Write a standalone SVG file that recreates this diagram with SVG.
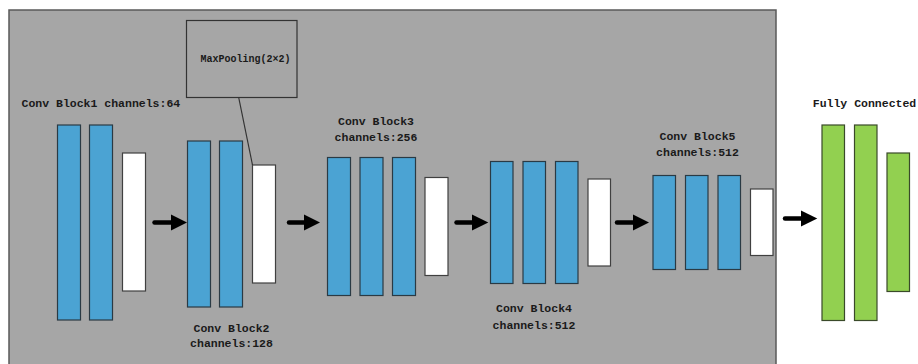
<svg xmlns="http://www.w3.org/2000/svg" width="918" height="364" viewBox="0 0 918 364">
<style>
.bg{fill:#a6a6a6;stroke:#595959;stroke-width:1.5}
.conv{fill:#4ba3d3;stroke:#2a3a44;stroke-width:1.2}
.pool{fill:#ffffff;stroke:#404040;stroke-width:1.2}
.fc{fill:#92d050;stroke:#3a4a2a;stroke-width:1.2}
.lbl{font-family:"Liberation Mono",monospace;font-weight:bold;font-size:11.5px;fill:#1a1a1a}
.arr{stroke:#000;stroke-width:4.5;stroke-linecap:round;fill:none}
.head{fill:#000}
</style>
<rect width="918" height="364" fill="#ffffff"/>
<rect class="bg" x="9" y="10" width="767" height="360"/>
<g id="block1">
<rect class="conv" x="57.5" y="125" width="23" height="195"/>
<rect class="conv" x="89.5" y="125" width="23" height="195"/>
<rect class="pool" x="122.5" y="153" width="23" height="138"/>
<text class="lbl" x="21.5" y="107">Conv Block1 channels:64</text>
</g>
<g id="block2">
<rect class="conv" x="187.5" y="141" width="23" height="166"/>
<rect class="conv" x="219.5" y="141" width="23" height="166"/>
<rect class="pool" x="252.5" y="165" width="23" height="118"/>
<text class="lbl" x="231.5" y="332" text-anchor="middle">Conv Block2</text>
<text class="lbl" x="231.5" y="347" text-anchor="middle">channels:128</text>
</g>
<g id="maxpool">
<rect x="186.5" y="20.5" width="110.5" height="77" fill="none" stroke="#333" stroke-width="1.2"/>
<text x="245.5" y="62" text-anchor="middle" style="font-family:'Liberation Mono',monospace;font-weight:bold;font-size:10px;fill:#1a1a1a">MaxPooling(2×2)</text>
</g>
<g id="block3">
<rect class="conv" x="327.5" y="157.5" width="23" height="138"/>
<rect class="conv" x="360" y="157.5" width="23" height="138"/>
<rect class="conv" x="392.5" y="157.5" width="23" height="138"/>
<rect class="pool" x="425" y="177.5" width="23" height="98"/>
<text class="lbl" x="376" y="124.5" text-anchor="middle">Conv Block3</text>
<text class="lbl" x="376" y="141" text-anchor="middle">channels:256</text>
</g>
<g id="block4">
<rect class="conv" x="490.5" y="161.5" width="22.5" height="122"/>
<rect class="conv" x="523" y="161.5" width="22.5" height="122"/>
<rect class="conv" x="555.5" y="161.5" width="22.5" height="122"/>
<rect class="pool" x="588" y="179" width="22.5" height="87"/>
<text class="lbl" x="534" y="312" text-anchor="middle">Conv Block4</text>
<text class="lbl" x="534" y="328.5" text-anchor="middle">channels:512</text>
</g>
<g id="block5">
<rect class="conv" x="653" y="175.5" width="22.5" height="94"/>
<rect class="conv" x="685.5" y="175.5" width="22.5" height="94"/>
<rect class="conv" x="718" y="175.5" width="22.5" height="94"/>
<rect class="pool" x="750.5" y="189" width="22.5" height="66.5"/>
<text class="lbl" x="697.5" y="139.5" text-anchor="middle">Conv Block5</text>
<text class="lbl" x="697.5" y="156" text-anchor="middle">channels:512</text>
</g>
<g id="fc">
<rect class="fc" x="822" y="125" width="22.5" height="195.5"/>
<rect class="fc" x="854.5" y="125" width="22.5" height="195.5"/>
<rect class="fc" x="887" y="153" width="22.5" height="138.5"/>
<text class="lbl" x="864.5" y="107" text-anchor="middle">Fully Connected</text>
</g>
<g id="connectors">
<line x1="238.7" y1="97.5" x2="252.5" y2="165" stroke="#333" stroke-width="1.2"/>
<line class="arr" x1="154.5" y1="222.5" x2="173" y2="222.5"/>
<polygon class="head" points="171,214.5 187,222.5 171,230.5"/>
<line class="arr" x1="289" y1="222.5" x2="306" y2="222.5"/>
<polygon class="head" points="304,214.5 320,222.5 304,230.5"/>
<line class="arr" x1="456.5" y1="222.5" x2="474" y2="222.5"/>
<polygon class="head" points="472,214.5 488.3,222.5 472,230.5"/>
<line class="arr" x1="617" y1="222.5" x2="635" y2="222.5"/>
<polygon class="head" points="633,214.5 649,222.5 633,230.5"/>
<line class="arr" x1="785" y1="218.5" x2="803" y2="218.5"/>
<polygon class="head" points="801,210.5 817.3,218.5 801,226.5"/>
</g>
</svg>
